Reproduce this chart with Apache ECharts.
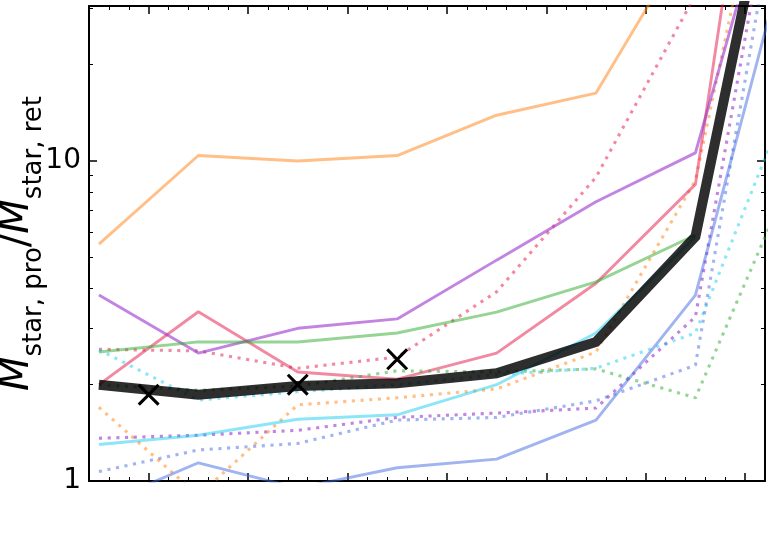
<!DOCTYPE html>
<html>
<head>
<meta charset="utf-8">
<script src="https://cdn.jsdelivr.net/npm/echarts@6/dist/echarts.min.js"></script>
<style>
  html, body { margin: 0; padding: 0; background: #fff; }
  #chart { width: 780px; height: 559px; }
</style>
</head>
<body>
<div id="chart"></div>
<script>
// bin centres on the (unlabelled) x axis
var xs = [-0.5, 0.5, 1.5, 2.5, 3.5, 4.5, 5.5, 6.5];

// ratio M_star,pro / M_star,ret per bin
var orangeSolid  = [5.5, 10.4, 10.0, 10.4, 13.9, 16.3, 54, 80];
var orangeDotted = [1.70, 0.90, 1.73, 1.82, 1.94, 2.53, 8.7, 257];
var pinkSolid    = [2.0, 3.38, 2.19, 2.08, 2.51, 4.15, 8.45, 1000];
var pinkDotted   = [2.58, 2.55, 2.25, 2.44, 3.9, 8.9, 33, 60];
var purpleSolid  = [3.81, 2.51, 3.0, 3.21, 4.9, 7.46, 10.6, 133];
var purpleDotted = [1.36, 1.39, 1.44, 1.58, 1.63, 1.69, 3.26, 180];
var greenSolid   = [2.53, 2.72, 2.72, 2.90, 3.37, 4.19, 5.87, null];
var greenDotted  = [2.0, 1.92, 1.98, 2.21, 2.19, 2.24, 1.82, 9.5];
var cyanSolid    = [1.30, 1.39, 1.56, 1.61, 2.0, 2.9, 5.8, null];
var cyanDotted   = [2.57, 1.79, 1.90, 2.0, 2.15, 2.25, 2.9, 17.5];
var blueSolid    = [0.84, 1.14, 0.95, 1.10, 1.17, 1.55, 3.81, 57];
var blueDotted   = [1.07, 1.25, 1.31, 1.55, 1.58, 1.78, 2.30, 139];
var median       = [2.0, 1.86, 1.98, 2.02, 2.17, 2.72, 5.8, 180];

// the three black crosses
var crossX = [0.0, 1.5, 2.5];
var crossY = [1.86, 2.0, 2.4];

// ticks
var xMajorTicks = [0, 1, 2, 3, 4, 5, 6];
var xMinorTicks = [];
for (var t = -0.4; t < 6.2; t += 0.2) {
    var r = Math.round(t * 10) / 10;
    if (Math.abs(r - Math.round(r)) > 0.01) xMinorTicks.push(r);
}
var yLabels = [1, 10];
var yMinorTicks = [2, 3, 4, 5, 6, 7, 8, 9, 20, 30];

var X_MIN = -0.6, X_MAX = 6.2, Y_MIN = 1, Y_MAX = 30.5;

function pairs(ys) {
    return xs.map(function (x, i) { return [x, ys[i]]; });
}

function lineSeries(name, ys, color, dotted) {
    return {
        name: name,
        type: 'line',
        data: pairs(ys),
        showSymbol: false,
        symbol: 'none',
        connectNulls: false,
        z: 2,
        lineStyle: {
            color: color,
            width: dotted ? 3.1 : 2.9,
            type: dotted ? [3.1, 5.6] : 'solid',
            cap: 'butt'
        }
    };
}

function xAxisOf(pos, ticks, len, width, showLine) {
    return {
        type: 'value', position: pos, min: X_MIN, max: X_MAX,
        axisLine: { show: showLine, onZero: false, lineStyle: { color: '#000', width: 2 } },
        axisTick: { show: true, inside: true, length: len, customValues: ticks,
                    lineStyle: { color: '#000', width: width } },
        axisLabel: { show: false },
        splitLine: { show: false }
    };
}

function yMinorOf(pos) {
    return {
        type: 'value', position: pos, min: 0, max: Math.log10(Y_MAX),
        axisLine: { show: false, onZero: false },
        axisTick: { show: true, inside: true, length: 4,
                    customValues: yMinorTicks.map(function (v) { return Math.log10(v); }),
                    lineStyle: { color: '#000', width: 1 } },
        axisLabel: { show: false },
        splitLine: { show: false }
    };
}

var chart = echarts.init(document.getElementById('chart'));
chart.setOption({
    animation: false,
    backgroundColor: '#fff',
    grid: { left: 89, right: 15, top: 6, bottom: 78, containLabel: false, outerBoundsMode: 'none' },
    xAxis: [
        xAxisOf('bottom', xMajorTicks, 8, 1.5, true),
        xAxisOf('top', xMajorTicks, 8, 1.5, true),
        xAxisOf('bottom', xMinorTicks, 4, 1, false),
        xAxisOf('top', xMinorTicks, 4, 1, false)
    ],
    yAxis: [
        {
            type: 'log', logBase: 10, position: 'left', min: Y_MIN, max: Y_MAX,
            axisLine: { show: true, onZero: false, lineStyle: { color: '#000', width: 2 } },
            axisTick: { show: true, inside: true, length: 8, lineStyle: { color: '#000', width: 1.5 } },
            axisLabel: { show: true, margin: 8, color: '#000', fontSize: 28, fontFamily: 'DejaVu Sans',
                         customValues: yLabels },
            splitLine: { show: false },
            name: '{m|M}{s|star, pro}{sl|/}{m|M}{s|star, ret}',
            nameLocation: 'middle',
            nameRotate: 90,
            nameGap: 42,
            nameMoveOverlap: false,
            nameTextStyle: {
                color: '#000',
                rich: {
                    m: { fontSize: 40, fontStyle: 'italic', fontFamily: 'DejaVu Sans', color: '#000',
                         lineHeight: 40, verticalAlign: 'bottom', padding: [0, 0, 9, 0] },
                    sl: { fontSize: 40, fontFamily: 'DejaVu Sans', color: '#000',
                          lineHeight: 40, verticalAlign: 'bottom', padding: [0, 0, 9, 0] },
                    s: { fontSize: 26, fontFamily: 'DejaVu Sans', color: '#000',
                         lineHeight: 26, verticalAlign: 'bottom' }
                }
            }
        },
        {
            type: 'log', logBase: 10, position: 'right', min: Y_MIN, max: Y_MAX,
            axisLine: { show: true, onZero: false, lineStyle: { color: '#000', width: 2 } },
            axisTick: { show: true, inside: true, length: 8, lineStyle: { color: '#000', width: 1.5 } },
            axisLabel: { show: false },
            splitLine: { show: false }
        },
        yMinorOf('left'),
        yMinorOf('right')
    ],
    series: [
        lineSeries('orange', orangeSolid, 'rgba(255,127,14,0.5)', false),
        lineSeries('orange dotted', orangeDotted, 'rgba(255,127,14,0.5)', true),
        lineSeries('pink', pinkSolid, 'rgba(230,20,70,0.5)', false),
        lineSeries('pink dotted', pinkDotted, 'rgba(230,20,70,0.5)', true),
        lineSeries('purple', purpleSolid, 'rgba(153,50,204,0.6)', false),
        lineSeries('purple dotted', purpleDotted, 'rgba(153,50,204,0.6)', true),
        lineSeries('green', greenSolid, 'rgba(44,170,44,0.5)', false),
        lineSeries('green dotted', greenDotted, 'rgba(44,170,44,0.5)', true),
        lineSeries('cyan', cyanSolid, 'rgba(0,200,240,0.45)', false),
        lineSeries('cyan dotted', cyanDotted, 'rgba(0,200,240,0.45)', true),
        lineSeries('blue', blueSolid, 'rgba(65,105,225,0.5)', false),
        lineSeries('blue dotted', blueDotted, 'rgba(65,105,225,0.5)', true),
        {
            name: 'median',
            type: 'line',
            data: pairs(median),
            showSymbol: false,
            symbol: 'none',
            z: 3,
            lineStyle: { color: 'rgba(0,0,0,0.82)', width: 10, cap: 'butt', join: 'miter' }
        },
        {
            name: 'crosses',
            type: 'scatter',
            data: crossX.map(function (x, i) { return [x, crossY[i]]; }),
            symbol: 'path://M0,1L1,0L5,4L9,0L10,1L6,5L10,9L9,10L5,6L1,10L0,9L4,5Z',
            symbolSize: 22,
            z: 4,
            itemStyle: { color: '#000', opacity: 1 }
        }
    ]
});
</script>
</body>
</html>
